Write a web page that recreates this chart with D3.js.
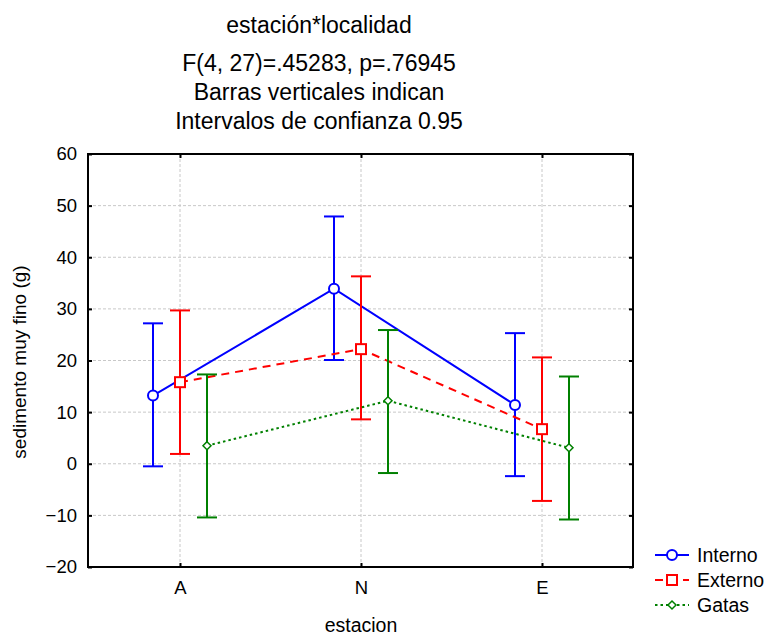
<!DOCTYPE html>
<html>
<head>
<meta charset="utf-8">
<script src="https://cdn.jsdelivr.net/npm/d3@7"></script>
<style>
  body { margin: 0; background: #fff; }
  text { font-family: Arial, "Liberation Sans", sans-serif; fill: #000; }
</style>
</head>
<body>
<svg id="grafico" width="764" height="635"></svg>
<script>
// datos del gráfico
const estaciones = ["A", "N", "E"];
const series = ["Interno", "Externo", "Gatas"];
const medias = {
  Interno: [13.2, 33.9, 11.4],
  Externo: [15.8, 22.2, 6.7],
  Gatas:   [3.5, 12.2, 3.1]
};
const inferior = {
  Interno: [-0.5, 20.1, -2.4],
  Externo: [1.9, 8.6, -7.2],
  Gatas:   [-10.4, -1.8, -10.8]
};
const superior = {
  Interno: [27.2, 47.9, 25.3],
  Externo: [29.7, 36.3, 20.6],
  Gatas:   [17.3, 25.9, 16.9]
};
const yTicks = [-20, -10, 0, 10, 20, 30, 40, 50, 60];
const titulos = ["estación*localidad", "F(4, 27)=.45283, p=.76945",
                 "Barras verticales indican", "Intervalos de confianza 0.95"];

const estilos = {
  Interno: { color: "#0000ff", dash: null, marca: "circulo" },
  Externo: { color: "#ff0000", dash: "8,6", marca: "cuadrado" },
  Gatas:   { color: "#008000", dash: "2.5,3", marca: "rombo" }
};

const m = { left: 88, top: 154, right: 633, bottom: 567 };
const svg = d3.select("#grafico");

const x = d3.scalePoint().domain(estaciones).range([180, 542]);
const y = d3.scaleLinear().domain([-20, 60]).range([m.bottom, m.top]);
const desplaz = d3.scalePoint().domain(series).range([-27, 27]);

// títulos
const tY = [33, 71, 100, 129];
svg.selectAll("text.titulo").data(titulos).enter().append("text")
  .attr("class", "titulo")
  .attr("x", 319).attr("y", (d, i) => tY[i])
  .attr("text-anchor", "middle")
  .style("font-size", "23px")
  .text(d => d);

// rejilla
const rejilla = svg.append("g");
rejilla.selectAll("line.h").data(yTicks.slice(1, -1)).enter().append("line")
  .attr("x1", m.left).attr("x2", m.right)
  .attr("y1", d => y(d)).attr("y2", d => y(d))
  .attr("stroke", "#c8c8c8").attr("stroke-dasharray", "3,2");
rejilla.selectAll("line.v").data(estaciones).enter().append("line")
  .attr("x1", d => x(d)).attr("x2", d => x(d))
  .attr("y1", m.top).attr("y2", m.bottom)
  .attr("stroke", "#c8c8c8").attr("stroke-dasharray", "3,2");

// ejes con marcas hacia dentro
const ejeIzq = svg.append("g").attr("transform", `translate(${m.left},0)`)
  .call(d3.axisLeft(y).tickValues(yTicks).tickSizeInner(-4).tickSizeOuter(0).tickPadding(11));
const ejeDer = svg.append("g").attr("transform", `translate(${m.right},0)`)
  .call(d3.axisRight(y).tickValues(yTicks).tickSizeInner(-4).tickSizeOuter(0).tickFormat(""));
const ejeInf = svg.append("g").attr("transform", `translate(0,${m.bottom})`)
  .call(d3.axisBottom(x).tickSizeInner(-4).tickSizeOuter(0).tickPadding(14));
const ejeSup = svg.append("g").attr("transform", `translate(0,${m.top})`)
  .call(d3.axisTop(x).tickSizeInner(-4).tickSizeOuter(0).tickFormat(""));
[ejeIzq, ejeDer, ejeInf, ejeSup].forEach(g => {
  g.select(".domain").remove();
  g.selectAll(".tick line").attr("stroke", "#000").attr("stroke-width", 2);
  g.selectAll(".tick text").style("font-size", "18.5px").attr("font-family", null);
});

svg.append("rect")
  .attr("x", m.left).attr("y", m.top)
  .attr("width", m.right - m.left).attr("height", m.bottom - m.top)
  .attr("fill", "none").attr("stroke", "#000").attr("stroke-width", 2);

// títulos de ejes
svg.append("text").attr("x", 361).attr("y", 632)
  .attr("text-anchor", "middle").style("font-size", "19.5px").text("estacion");
svg.append("text")
  .attr("transform", "translate(26,362) rotate(-90)")
  .attr("text-anchor", "middle").style("font-size", "19px").text("sedimento muy fino (g)");

function marca(g, tipo, color, cx, cy) {
  if (tipo === "circulo") {
    g.append("circle").attr("cx", cx).attr("cy", cy).attr("r", 5)
      .attr("fill", "#fff").attr("stroke", color).attr("stroke-width", 2);
  } else if (tipo === "cuadrado") {
    g.append("rect").attr("x", cx - 5).attr("y", cy - 5).attr("width", 10).attr("height", 10)
      .attr("fill", "#fff").attr("stroke", color).attr("stroke-width", 2);
  } else {
    g.append("path").attr("d", `M${cx},${cy - 4}L${cx + 4},${cy}L${cx},${cy + 4}L${cx - 4},${cy}Z`)
      .attr("fill", "#fff").attr("stroke", color).attr("stroke-width", 1.5);
  }
}

// series: barras de error, líneas y marcas
series.forEach(s => {
  const e = estilos[s];
  const g = svg.append("g");
  const px = i => x(estaciones[i]) + desplaz(s);
  estaciones.forEach((est, i) => {
    g.append("line").attr("x1", px(i)).attr("x2", px(i))
      .attr("y1", y(inferior[s][i])).attr("y2", y(superior[s][i]))
      .attr("stroke", e.color).attr("stroke-width", 2);
    [inferior[s][i], superior[s][i]].forEach(v => {
      g.append("line").attr("x1", px(i) - 10).attr("x2", px(i) + 10)
        .attr("y1", y(v)).attr("y2", y(v))
        .attr("stroke", e.color).attr("stroke-width", 2);
    });
  });
  const linea = d3.line().x((d, i) => px(i)).y(d => y(d));
  g.append("path").attr("d", linea(medias[s]))
    .attr("fill", "none").attr("stroke", e.color).attr("stroke-width", 2)
    .attr("stroke-dasharray", e.dash);
  medias[s].forEach((v, i) => marca(g, e.marca, e.color, px(i), y(v)));
});

// leyenda
const ley = svg.append("g");
series.forEach((s, i) => {
  const e = estilos[s];
  const ly = 555 + i * 25;
  ley.append("line").attr("x1", 655).attr("x2", 689).attr("y1", ly).attr("y2", ly)
    .attr("stroke", e.color).attr("stroke-width", 2).attr("stroke-dasharray", e.dash);
  marca(ley, e.marca, e.color, 672, ly);
  ley.append("text").attr("x", 697).attr("y", ly + 7).style("font-size", "19.5px").text(s);
});
</script>
</body>
</html>
